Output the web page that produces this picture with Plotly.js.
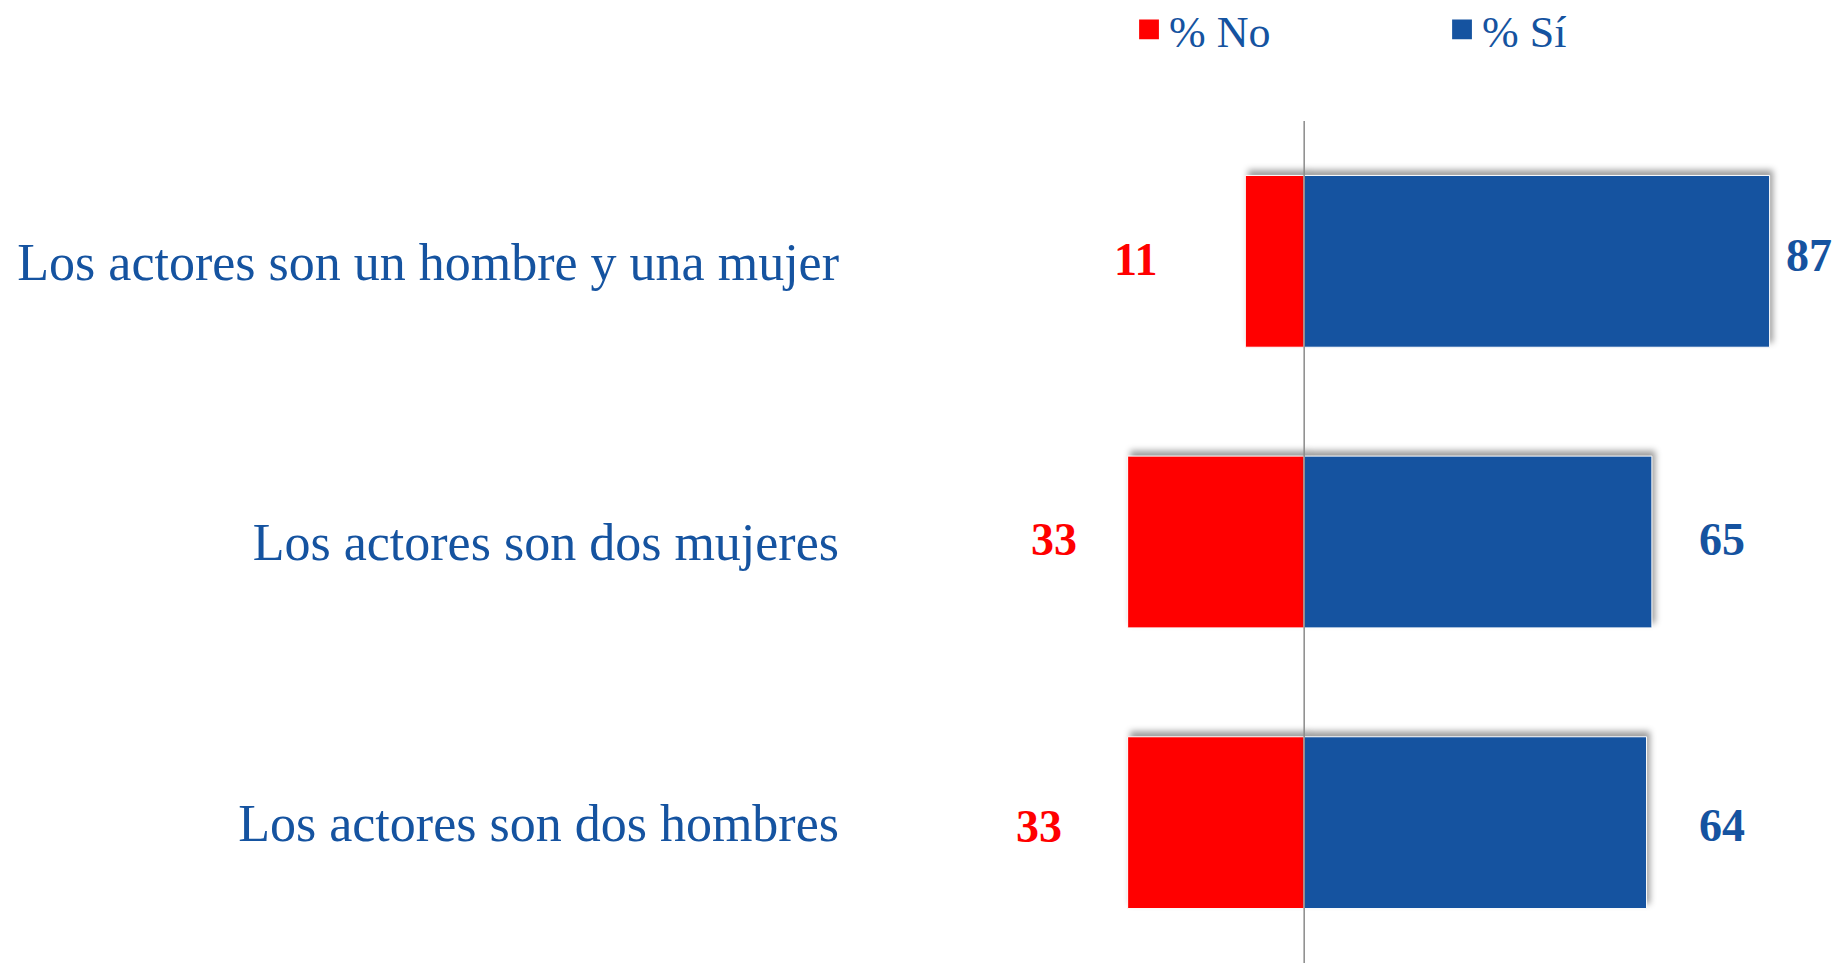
<!DOCTYPE html>
<html>
<head>
<meta charset="utf-8">
<script src="https://cdn.plot.ly/plotly-3.0.1.min.js"></script>
<style>
  html, body { margin: 0; padding: 0; background: #ffffff; }
  #chart { width: 1837px; height: 963px; }
  .barlayer .trace path { filter: drop-shadow(3px -5px 3px rgba(0,0,0,0.38)); }
</style>
</head>
<body>
<div id="chart"></div>
<script>
// ---- data ----
const categories = [
  "Los actores son un hombre y una mujer",
  "Los actores son dos mujeres",
  "Los actores son dos hombres"
];
const pctNo = [11, 33, 33];
const pctSi = [87, 65, 64];
const seriesNames = ["% No", "% Sí"];

// ---- style ----
const RED = "#FF0000";
const BLUE = "#1553A0";
const FONT = "Liberation Serif, Times New Roman, serif";
// label pixel offsets from bar ends (centre of label)
const noLabelShift = [-110, -74, -89];
const siLabelShift = [39, 70, 75];
const noLabelYShift = [2, 3, -4];
const siLabelYShift = [6, 3, -3];

const traceNo = {
  type: "bar", orientation: "h", name: seriesNames[0],
  y: categories, x: pctNo.map(v => -v),
  marker: { color: RED, line: { color: "#ffffff", width: 1 } },
  hoverinfo: "skip"
};
const traceSi = {
  type: "bar", orientation: "h", name: seriesNames[1],
  y: categories, x: pctSi,
  marker: { color: BLUE, line: { color: "#ffffff", width: 1 } },
  hoverinfo: "skip"
};

const annotations = [];
categories.forEach((c, i) => {
  annotations.push({
    x: -pctNo[i], y: c, xref: "x", yref: "y",
    text: "<b>" + pctNo[i] + "</b>", showarrow: false,
    xanchor: "center", yanchor: "middle", xshift: noLabelShift[i], yshift: noLabelYShift[i],
    font: { family: FONT, size: 46, color: RED }
  });
  annotations.push({
    x: pctSi[i], y: c, xref: "x", yref: "y",
    text: "<b>" + pctSi[i] + "</b>", showarrow: false,
    xanchor: "center", yanchor: "middle", xshift: siLabelShift[i], yshift: siLabelYShift[i],
    font: { family: FONT, size: 46, color: BLUE }
  });
});

const layout = {
  width: 1837, height: 963,
  margin: { l: 850, r: 0, t: 121, b: 0, pad: 0 },
  paper_bgcolor: "#ffffff", plot_bgcolor: "#ffffff",
  barmode: "relative",
  bargap: 0.388,
  showlegend: true,
  legend: {
    orientation: "h", xref: "container", yref: "container",
    x: 0.6146, y: 0.969, xanchor: "left", yanchor: "middle",
    font: { family: FONT, size: 44, color: BLUE },
    entrywidth: 268, entrywidthmode: "pixels",
    traceorder: "normal", bgcolor: "rgba(0,0,0,0)"
  },
  xaxis: {
    range: [-84.9, 99.6], showgrid: false, zeroline: false,
    showticklabels: false, ticks: "", showline: false, fixedrange: true
  },
  yaxis: {
    type: "category", categoryorder: "array", categoryarray: categories,
    autorange: "reversed", showgrid: false, zeroline: false, showline: false,
    ticks: "", ticklabelstandoff: 10,
    tickfont: { family: FONT, size: 52, color: BLUE }, fixedrange: true
  },
  shapes: [{
    type: "line", xref: "x", yref: "paper", x0: 0, x1: 0, y0: 0, y1: 1,
    line: { color: "#8a8a8a", width: 1.5 }, layer: "above"
  }],
  annotations: annotations
};

Plotly.newPlot("chart", [traceNo, traceSi], layout, { displayModeBar: false, staticPlot: true })
  .then(() => {
    document.querySelectorAll(".legendpoints path").forEach(p => {
      const t = p.getAttribute("transform") || "";
      p.setAttribute("transform", t + " scale(1.65)");
      p.style.strokeWidth = "0";
    });
  });
</script>
</body>
</html>
